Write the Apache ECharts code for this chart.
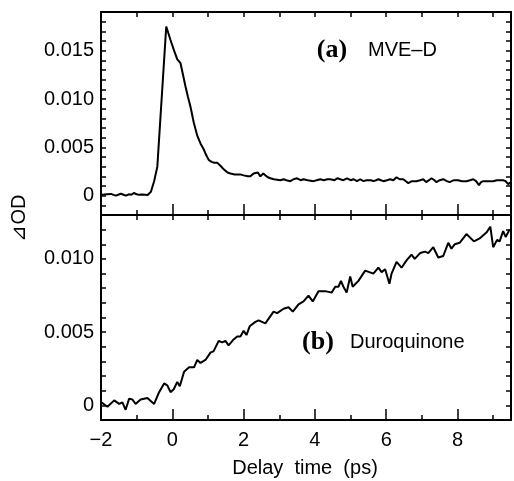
<!DOCTYPE html>
<html>
<head>
<meta charset="utf-8">
<script src="https://cdn.jsdelivr.net/npm/echarts@6/dist/echarts.min.js"></script>
<style>
  html, body { margin: 0; padding: 0; background: #fff; }
  #chart { width: 514px; height: 481px; }
</style>
</head>
<body>
<div id="chart"></div>
<script>
  // (a) MVE-D
  const timeA = [
    -2.0, -1.92, -1.82, -1.72, -1.65, -1.58, -1.5, -1.44, -1.37, -1.3, -1.22, -1.15, -1.08, -1.0, -0.94,
    -0.85, -0.75, -0.69, -0.6, -0.51, -0.42, -0.17, -0.05, 0.05, 0.14, 0.23, 0.3, 0.37, 0.44, 0.51,
    0.6, 0.7, 0.79, 0.88, 0.95, 1.02, 1.1, 1.18, 1.26, 1.35, 1.45, 1.55, 1.63, 1.75, 1.85, 1.91,
    2.0, 2.05, 2.12, 2.19, 2.28, 2.33, 2.4, 2.47, 2.55, 2.61, 2.68, 2.75, 2.85, 2.94, 3.03, 3.12,
    3.2, 3.31, 3.4, 3.5, 3.6, 3.68, 3.8, 3.96, 4.05, 4.15, 4.25, 4.35, 4.43, 4.55, 4.63, 4.71,
    4.8, 4.9, 5.0, 5.08, 5.18, 5.27, 5.36, 5.45, 5.5, 5.57, 5.64, 5.72, 5.78, 5.85, 5.92, 6.02,
    6.11, 6.2, 6.29, 6.38, 6.48, 6.55, 6.62, 6.72, 6.85, 6.95, 7.04, 7.12, 7.2, 7.27, 7.35, 7.41,
    7.5, 7.6, 7.7, 7.78, 7.9, 8.02, 8.12, 8.25, 8.35, 8.44, 8.52, 8.6, 8.66, 8.72, 8.85, 9.0,
    9.1, 9.2, 9.28, 9.35, 9.42, 9.5
  ];
  const odA = [
    0.0001, 0.00012, 0.00015, 0.00018, 0.00008, 0.0, 0.00012, 0.0002, 0.0001, 0.0, 0.00014, 0.0001, 0.00028, 0.00015, 0.0001,
    0.00012, 0.0001, 0.00007, 0.0004, 0.0015, 0.003, 0.0175, 0.0161, 0.015, 0.0141, 0.0137, 0.0125, 0.0113, 0.0102, 0.0092,
    0.0076, 0.0062, 0.0054, 0.0048, 0.0042, 0.0037, 0.0035, 0.0034, 0.0034, 0.0031, 0.0027, 0.0024, 0.0023, 0.0022, 0.0022, 0.0022,
    0.0021, 0.0023, 0.002, 0.002, 0.0023, 0.0021, 0.0024, 0.002, 0.0023, 0.0021, 0.0019, 0.0018, 0.0017, 0.00165, 0.0016, 0.0017,
    0.0016, 0.0015, 0.0017, 0.0018, 0.0016, 0.0017, 0.0016, 0.0015, 0.0016, 0.0017, 0.0016, 0.0017, 0.0017, 0.0016, 0.0018, 0.0017,
    0.0016, 0.0018, 0.0016, 0.0017, 0.0015, 0.0017, 0.0015, 0.0016, 0.0018, 0.0016, 0.0015, 0.0016, 0.0017, 0.0016, 0.0015, 0.0016,
    0.0017, 0.0016, 0.0019, 0.0017, 0.0017, 0.0015, 0.0013, 0.0015, 0.0015, 0.0016, 0.0017, 0.0014, 0.0016, 0.0018, 0.0016, 0.0014,
    0.0016, 0.0017, 0.0015, 0.0014, 0.0016, 0.0016, 0.0015, 0.0015, 0.0016, 0.0017, 0.0015, 0.0011, 0.0014, 0.0015, 0.0015, 0.0015,
    0.0016, 0.0016, 0.0016, 0.0015, 0.0012, 0.0014
  ];

  // (b) Duroquinone
  const timeB = [
    -2.0, -1.82, -1.63, -1.49, -1.4, -1.31, -1.21, -1.12, -1.03, -0.89, -0.7, -0.51, -0.37, -0.23, -0.14,
    -0.05, 0.04, 0.14, 0.21, 0.33, 0.47, 0.61, 0.7, 0.79, 0.93, 1.07, 1.16, 1.3, 1.4, 1.49,
    1.58, 1.72, 1.82, 1.91, 2.0, 2.08, 2.17, 2.33, 2.42, 2.61, 2.84, 2.94, 3.12, 3.26, 3.38,
    3.54, 3.68, 3.82, 3.94, 4.1, 4.29, 4.47, 4.57, 4.66, 4.73, 4.8, 4.89, 4.99, 5.06, 5.22,
    5.41, 5.64, 5.78, 5.87, 5.97, 6.09, 6.15, 6.29, 6.43, 6.57, 6.71, 6.8, 6.95, 7.09, 7.18,
    7.32, 7.46, 7.6, 7.74, 7.83, 7.92, 8.06, 8.25, 8.46, 8.62, 8.81, 8.92, 9.0, 9.11, 9.18,
    9.28, 9.35, 9.46
  ];
  const odB = [
    0.00023, -0.0001, 0.00034, 0.0001, 0.0002, -0.0003, 0.00046, 0.0004, 0.0001, 0.0004, 0.0005, 0.0001, 0.0009, 0.0015, 0.00136,
    0.0009, 0.0011, 0.0016, 0.0013, 0.0023, 0.0026, 0.0026, 0.0031, 0.0029, 0.0031, 0.0036, 0.0037, 0.0044, 0.0043, 0.0044,
    0.0041, 0.0045, 0.0047, 0.0047, 0.0051, 0.0048, 0.0054, 0.0057, 0.0058, 0.0056, 0.0064, 0.0063, 0.0066, 0.0067, 0.0064,
    0.0069, 0.0071, 0.0075, 0.0071, 0.0078, 0.0078, 0.0077, 0.0081, 0.0081, 0.0085, 0.0081, 0.0077, 0.0088, 0.0081, 0.0085,
    0.0092, 0.009, 0.0094, 0.0091, 0.0093, 0.0083, 0.009, 0.0098, 0.0094, 0.0099, 0.0103, 0.01, 0.0104, 0.0105, 0.0104,
    0.0108, 0.0101, 0.0102, 0.0111, 0.0107, 0.011, 0.0111, 0.0117, 0.0112, 0.0114, 0.0118, 0.0122, 0.0108, 0.0113, 0.0112,
    0.0119, 0.0115, 0.012
  ];

  const font = 'Liberation Sans';
  const black = '#000';

  const xLabel = (v) => {
    const r = Math.round(v);
    if (Math.abs(v - r) > 1e-6 || r % 2 !== 0) return '';
    return r < 0 ? '\u2212' + (-r) : String(r);
  };
  const yLabel = (v) => {
    const k = Math.round(v / 0.001);
    if (Math.abs(v - k * 0.001) > 1e-7 || k < 0 || k % 5 !== 0) return '';
    return k === 0 ? '0' : (k * 0.001).toFixed(3);
  };

  const xAxisBase = (grid, pos, showLabel) => ({
    type: 'value',
    gridIndex: grid,
    position: pos,
    min: -2,
    max: 9.5,
    interval: 1,
    axisLine: { show: true, onZero: false, lineStyle: { color: black, width: 2 } },
    axisTick: { show: true, inside: true, length: 5, lineStyle: { color: black, width: 1.5 } },
    axisLabel: { show: showLabel, formatter: xLabel, color: black, fontFamily: font, fontSize: 20, margin: 10 },
    splitLine: { show: false },
  });
  // longer ticks at the even (labelled) times, no line of their own
  const xMajorTicks = (grid) => ({
    type: 'value',
    gridIndex: grid,
    position: 'bottom',
    min: -2,
    max: 9.5,
    interval: 2,
    axisLine: { show: false, onZero: false },
    axisTick: { show: true, inside: true, length: 11, lineStyle: { color: black, width: 1.5 } },
    axisLabel: { show: false },
    splitLine: { show: false },
  });
  const yAxisBase = (grid, pos, min, max, showLabel) => ({
    type: 'value',
    gridIndex: grid,
    position: pos,
    min: min,
    max: max,
    interval: 0.001,
    axisLine: { show: true, onZero: false, lineStyle: { color: black, width: 2 } },
    axisTick: { show: true, inside: true, length: 5, lineStyle: { color: black, width: 1.5 } },
    axisLabel: { show: showLabel, formatter: yLabel, color: black, fontFamily: font, fontSize: 20, margin: 7 },
    splitLine: { show: false },
  });

  const myChart = echarts.init(document.getElementById('chart'), null, { renderer: 'canvas' });
  myChart.setOption({
    backgroundColor: '#fff',
    animation: false,
    grid: [
      { left: 101, right: 3, top: 12, height: 203 },
      { left: 101, right: 3, top: 215, height: 205 },
    ],
    xAxis: [
      xAxisBase(0, 'bottom', false),
      xAxisBase(0, 'top', false),
      xAxisBase(1, 'bottom', true),
      xAxisBase(1, 'top', false),
      xMajorTicks(0),
      xMajorTicks(1),
    ],
    yAxis: [
      yAxisBase(0, 'left', -0.002, 0.019, true),
      yAxisBase(0, 'right', -0.002, 0.019, false),
      yAxisBase(1, 'left', -0.001, 0.013, true),
      yAxisBase(1, 'right', -0.001, 0.013, false),
    ],
    series: [
      {
        type: 'line',
        xAxisIndex: 0,
        yAxisIndex: 0,
        showSymbol: false,
        lineStyle: { color: black, width: 2 },
        data: timeA.map((t, i) => [t, odA[i]]),
      },
      {
        type: 'line',
        xAxisIndex: 2,
        yAxisIndex: 2,
        showSymbol: false,
        lineStyle: { color: black, width: 2 },
        data: timeB.map((t, i) => [t, odB[i]]),
      },
    ],
    graphic: [
      {
        type: 'text', x: 19, y: 218, rotation: Math.PI / 2,
        style: { text: '\u22BFOD', font: '20px "Liberation Sans"', fill: black, textAlign: 'center', textVerticalAlign: 'middle' },
      },
      {
        type: 'text', x: 305, y: 468,
        style: { text: 'Delay  time  (ps)', font: '20px "Liberation Sans"', fill: black, textAlign: 'center', textVerticalAlign: 'middle' },
      },
      {
        type: 'text', x: 332, y: 50,
        style: { text: '(a)', font: 'bold 26px "Liberation Serif"', fill: black, textAlign: 'center', textVerticalAlign: 'middle' },
      },
      {
        type: 'text', x: 368, y: 50,
        style: { text: 'MVE\u2013D', font: '20px "Liberation Sans"', fill: black, textAlign: 'left', textVerticalAlign: 'middle' },
      },
      {
        type: 'text', x: 318, y: 342,
        style: { text: '(b)', font: 'bold 26px "Liberation Serif"', fill: black, textAlign: 'center', textVerticalAlign: 'middle' },
      },
      {
        type: 'text', x: 350, y: 342,
        style: { text: 'Duroquinone', font: '20px "Liberation Sans"', fill: black, textAlign: 'left', textVerticalAlign: 'middle' },
      },
    ],
  });
  window.addEventListener('resize', function () {
    myChart && myChart.resize();
  });
</script>
</body>
</html>
